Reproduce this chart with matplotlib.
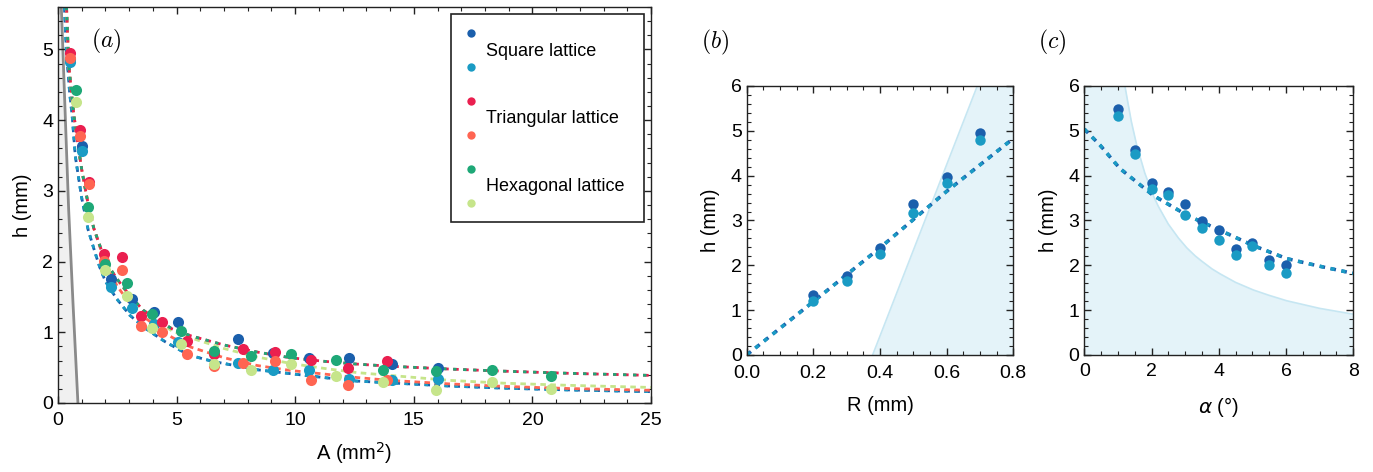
import numpy as np
import matplotlib.pyplot as plt
from matplotlib.legend_handler import HandlerBase
from matplotlib.lines import Line2D

plt.rcParams['font.family'] = ['Liberation Sans', 'DejaVu Sans']
plt.rcParams['mathtext.fontset'] = 'dejavusans'

# colours
c_sq1, c_sq2 = '#1B5FAC', '#1A9BC4'
c_tr1, c_tr2 = '#EA1F4F', '#FF6552'
c_hx1, c_hx2 = '#1EA877', '#C6E58B'

# ---- panel (a) data: h vs A ----
sq_A = [0.5, 1.01, 2.25, 3.1, 4.04, 5.08, 7.6, 9.05, 10.58, 12.28, 14.09, 16.0]
sq_h1 = [4.87, 3.63, 1.75, 1.47, 1.29, 1.15, 0.91, 0.71, 0.63, 0.64, 0.55, 0.50]
sq_h2 = [4.82, 3.56, 1.64, 1.34, 1.12, 0.86, 0.57, 0.47, 0.47, 0.34, 0.32, 0.34]

tr_A = [0.49, 0.92, 1.32, 1.96, 2.69, 3.48, 4.4, 5.43, 6.58, 7.8, 9.16, 10.66, 12.21, 13.88]
tr_h1 = [4.95, 3.86, 3.13, 2.11, 2.06, 1.23, 1.15, 0.87, 0.69, 0.77, 0.72, 0.61, 0.50, 0.59]
tr_h2 = [4.88, 3.78, 3.10, 2.01, 1.88, 1.09, 1.00, 0.69, 0.52, 0.57, 0.59, 0.33, 0.25, 0.33]

hx_A = [0.75, 1.28, 2.0, 2.9, 3.98, 5.19, 6.58, 8.14, 9.82, 11.7, 13.71, 15.95, 18.29, 20.79]
hx_h1 = [4.42, 2.77, 1.96, 1.70, 1.26, 1.02, 0.74, 0.67, 0.69, 0.61, 0.46, 0.45, 0.46, 0.38]
hx_h2 = [4.25, 2.63, 1.88, 1.51, 1.06, 0.83, 0.55, 0.46, 0.55, 0.38, 0.29, 0.18, 0.29, 0.20]

# fitted curves
fit_A = [0.36, 0.45, 0.55, 0.66, 0.8, 1.0, 1.25, 1.5, 2.0, 2.5, 3.0, 3.6, 4.8, 5.6,
         7.0, 8.4, 9.8, 11.2, 12.6, 14.0, 16.5, 18.8, 21.5, 25.0]
fit_dark = [5.6, 4.8, 4.45, 4.1, 3.75, 3.3, 2.85, 2.48, 2.0, 1.75, 1.53, 1.31, 1.05, 0.95,
            0.82, 0.72, 0.64, 0.59, 0.55, 0.52, 0.48, 0.45, 0.42, 0.39]
fit_tr2 = [5.6, 4.8, 4.45, 4.1, 3.75, 3.3, 2.85, 2.48, 1.97, 1.65, 1.42, 1.22, 0.93, 0.79,
           0.64, 0.53, 0.46, 0.41, 0.36, 0.32, 0.27, 0.235, 0.205, 0.18]
fit_hx2 = [5.6, 4.8, 4.45, 4.1, 3.75, 3.3, 2.85, 2.48, 2.0, 1.74, 1.52, 1.30, 1.02, 0.92,
           0.77, 0.65, 0.56, 0.49, 0.43, 0.39, 0.32, 0.28, 0.25, 0.22]
fit_sq_A = [0.27, 0.35, 0.42, 0.49, 0.6, 0.73, 0.87, 1.0, 1.27, 1.55, 1.76, 2.0, 2.46,
            3.03, 3.66, 4.5, 5.5, 6.5, 8.4, 11.2, 12.6, 16.5, 18.8, 21.5, 25.0]
fit_sq = [5.6, 5.0, 4.7, 4.39, 4.05, 3.49, 3.18, 2.9, 2.45, 2.14, 1.92, 1.72, 1.48,
          1.24, 1.06, 0.87, 0.68, 0.59, 0.47, 0.36, 0.31, 0.24, 0.21, 0.185, 0.16]

# grey limit line
lim_A = [0.14, 0.45, 0.63, 0.84]
lim_h = [5.6, 2.73, 1.43, 0.0]

# ---- panel (b): h vs R ----
R = [0.2, 0.3, 0.4, 0.5, 0.6, 0.7]
R_h1 = [1.34, 1.77, 2.39, 3.36, 3.97, 4.96]
R_h2 = [1.21, 1.64, 2.26, 3.17, 3.84, 4.80]
R_fit = [0.0, 0.2, 0.4, 0.6, 0.8]
R_fit_h = [0.0, 1.19, 2.39, 3.65, 4.83]
R_bound = [0.378, 0.692]
R_bound_h = [0.0, 6.0]

# ---- panel (c): h vs alpha ----
al = [1, 1.5, 2, 2.5, 3, 3.5, 4, 4.5, 5, 5.5, 6]
al_h1 = [5.49, 4.58, 3.84, 3.64, 3.36, 2.98, 2.78, 2.37, 2.50, 2.11, 2.00]
al_h2 = [5.32, 4.48, 3.71, 3.56, 3.13, 2.83, 2.57, 2.24, 2.42, 2.00, 1.83]
al_fit = [0, 0.47, 1.06, 2.05, 3.05, 4.04, 5.03, 6.02, 7.0, 8.0]
al_fit_h = [5.04, 4.68, 4.16, 3.56, 3.12, 2.78, 2.44, 2.15, 1.98, 1.82]
al_bound = [0, 1.21, 1.3, 1.4, 1.56, 1.8, 2.05, 2.2, 2.5, 2.8, 3.05, 3.3, 3.5, 3.8,
            4.04, 4.5, 5.03, 5.5, 6.02, 7.0, 8.0]
al_bound_h = [6, 6, 5.62, 5.21, 4.68, 4.06, 3.56, 3.32, 2.92, 2.61, 2.39, 2.21, 2.09,
              1.92, 1.81, 1.62, 1.45, 1.33, 1.21, 1.04, 0.91]


class PairHandler(HandlerBase):
    # two dots stacked above and below the label
    def create_artists(self, legend, orig_handle, xdescent, ydescent,
                       width, height, fontsize, trans):
        ymid = height / 2 - ydescent
        arts = []
        for col, dy in zip(orig_handle, (12.2, -12.2)):
            ln = Line2D([0.5], [ymid + dy], ls='none', marker='o', ms=6,
                        mfc=col, mec='none', transform=trans)
            arts.append(ln)
        return arts


def style(ax, pad_x, pad_y):
    ax.tick_params(which='both', direction='in', top=True, right=True,
                   labelsize=14, color='#222222')
    ax.tick_params(which='major', length=5, width=1)
    ax.tick_params(which='minor', length=3, width=0.8)
    ax.tick_params(axis='x', pad=pad_x)
    ax.tick_params(axis='y', pad=pad_y)
    for s in ax.spines.values():
        s.set_linewidth(1.0)
        s.set_color('#222222')


fig = plt.figure(figsize=(13.73, 4.72), dpi=100)

# ================= (a) =================
ax = fig.add_axes([0.04224, 0.1462, 0.4319, 0.839])
ax.fill_betweenx(lim_h, 0, lim_A, color='#f0f0f0', lw=0, zorder=0)
ax.plot(lim_A, lim_h, color='#8a8a8a', lw=2, zorder=1)

dash = (2.0, 1.6)
ax.plot(fit_sq_A, fit_sq, color=c_sq1, lw=2, dashes=dash, zorder=2)
ax.plot(fit_sq_A, fit_sq, color=c_sq2, lw=2, dashes=(1.3, 2.3), zorder=2)
ax.plot(fit_A, fit_tr2, color=c_tr2, lw=2, dashes=dash, zorder=2)
ax.plot(fit_A, fit_hx2, color=c_hx2, lw=2, dashes=dash, zorder=2)
ax.plot(fit_A, fit_dark, color=c_tr1, lw=2, dashes=dash, zorder=2)
ax.plot(fit_A, fit_dark, color=c_hx1, lw=2, dashes=(1.2, 2.4), zorder=2)

ms = 8
for xs, y1, y2, c1, c2 in [(sq_A, sq_h1, sq_h2, c_sq1, c_sq2),
                           (tr_A, tr_h1, tr_h2, c_tr1, c_tr2),
                           (hx_A, hx_h1, hx_h2, c_hx1, c_hx2)]:
    ax.plot(xs, y1, 'o', ms=ms, mfc=c1, mec='none', zorder=3)
    ax.plot(xs, y2, 'o', ms=ms, mfc=c2, mec='none', zorder=3)

ax.set_xlim(0, 25)
ax.set_ylim(0, 5.6)
ax.set_xticks([0, 5, 10, 15, 20, 25])
ax.set_xticks(np.arange(0, 25.1, 1), minor=True)
ax.set_yticks([0, 1, 2, 3, 4, 5])
ax.set_yticks(np.arange(0, 5.61, 0.2), minor=True)
style(ax, 6.5, 3.5)
ax.set_xlabel('A (mm$^2$)', fontsize=14.5, labelpad=8)
ax.set_ylabel('h (mm)', fontsize=14.5, labelpad=7)
t = ax.text(0.0816, 0.912, '$(a)$', transform=ax.transAxes, fontsize=17,
            ha='center', va='center')
t.set_math_fontfamily('cm')

leg = ax.legend([(c_sq1, c_sq2), (c_tr1, c_tr2), (c_hx1, c_hx2)],
                ['Square lattice', 'Triangular lattice', 'Hexagonal lattice'],
                handler_map={tuple: PairHandler()}, loc='upper right',
                fontsize=13, frameon=True, fancybox=False, framealpha=1,
                edgecolor='#222222', borderpad=1.1, handleheight=2.4,
                labelspacing=1.95, handlelength=0.4, handletextpad=0.45,
                borderaxespad=0.38)
leg.get_frame().set_linewidth(1.2)
leg.set_zorder(5)

# ================= (b) =================
fill_c, edge_c = '#E4F3F9', '#C6E6F2'
bx = fig.add_axes([0.5438, 0.2479, 0.1942, 0.5699])
bx.fill_betweenx(R_bound_h, R_bound, 0.8, color=fill_c, lw=0, zorder=0)
bx.plot(R_bound, R_bound_h, color=edge_c, lw=1.2, zorder=1)
bx.plot(R_fit, R_fit_h, color=c_sq1, lw=2.5, dashes=(1.6, 1.6), zorder=2)
bx.plot(R_fit, R_fit_h, color=c_sq2, lw=2.5, dashes=(1.2, 2.0), zorder=2)
bx.plot(R, R_h1, 'o', ms=7.5, mfc=c_sq1, mec='none', zorder=3)
bx.plot(R, R_h2, 'o', ms=7.5, mfc=c_sq2, mec='none', zorder=3)
bx.set_xlim(0, 0.8)
bx.set_ylim(0, 6)
bx.set_xticks([0, 0.2, 0.4, 0.6, 0.8])
bx.set_xticklabels(['0.0', '0.2', '0.4', '0.6', '0.8'])
bx.set_xticks(np.arange(0, 0.81, 0.05), minor=True)
bx.set_yticks(range(7))
bx.set_yticks(np.arange(0, 6.01, 0.2), minor=True)
style(bx, 7.5, 3.5)
bx.set_xlabel('R (mm)', fontsize=14.5, labelpad=9.5)
bx.set_ylabel('h (mm)', fontsize=14.5, labelpad=8)
t = fig.text(0.5208, 0.909, '$(b)$', fontsize=17, ha='center', va='center')
t.set_math_fontfamily('cm')

# ================= (c) =================
cx = fig.add_axes([0.7897, 0.2479, 0.1959, 0.5699])
cx.fill_between(al_bound, 0, al_bound_h, color=fill_c, lw=0, zorder=0)
cx.plot(al_bound[1:], al_bound_h[1:], color=edge_c, lw=1.2, zorder=1)
cx.plot(al_fit, al_fit_h, color=c_sq1, lw=2.5, dashes=(1.6, 1.6), zorder=2)
cx.plot(al_fit, al_fit_h, color=c_sq2, lw=2.5, dashes=(1.2, 2.0), zorder=2)
cx.plot(al, al_h1, 'o', ms=7.5, mfc=c_sq1, mec='none', zorder=3)
cx.plot(al, al_h2, 'o', ms=7.5, mfc=c_sq2, mec='none', zorder=3)
cx.set_xlim(0, 8)
cx.set_ylim(0, 6)
cx.set_xticks([0, 2, 4, 6, 8])
cx.set_xticks(np.arange(0, 8.01, 0.5), minor=True)
cx.set_yticks(range(7))
cx.set_yticks(np.arange(0, 6.01, 0.2), minor=True)
style(cx, 5.5, 3.5)
cx.set_xlabel(r'$\alpha$ (°)', fontsize=14.5, labelpad=11)
cx.set_ylabel('h (mm)', fontsize=14.5, labelpad=7.5)
t = fig.text(0.7662, 0.909, '$(c)$', fontsize=17, ha='center', va='center')
t.set_math_fontfamily('cm')

fig.savefig('out.png', dpi=100)
